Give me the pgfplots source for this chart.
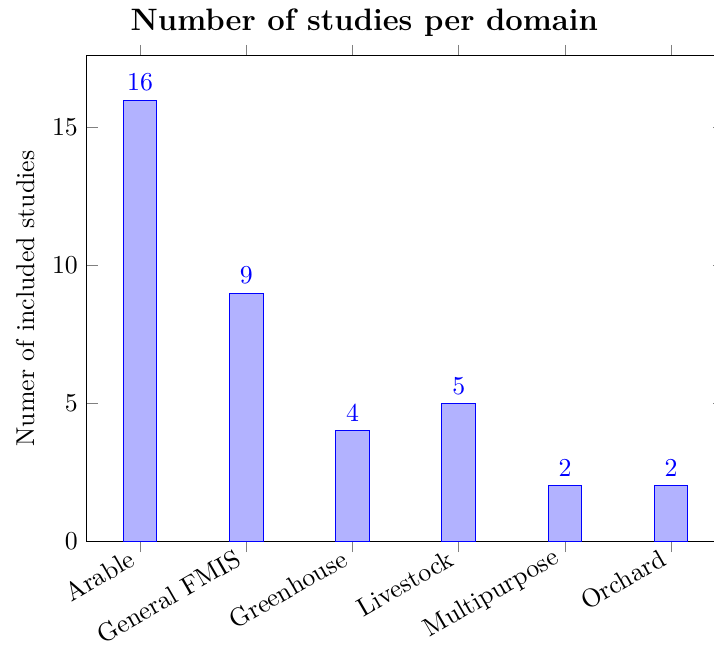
\documentclass[border=0pt]{standalone}
\usepackage{pgfplots}
\pgfplotsset{compat=1.18}
\usetikzlibrary{calc}

\begin{document}
\begin{tikzpicture}
\begin{axis}[
    name=ax,
    scale only axis,
    width=247pt, height=188pt,
    ybar,
    bar width=13pt,
    ymin=0,
    enlarge y limits={upper,value=0.1},
    xmin=-0.5, xmax=5.5,
    xtick=data,
    xticklabels={Arable,General FMIS,Greenhouse,Livestock,Multipurpose,Orchard},
    x tick label style={rotate=30,anchor=east},
    xtick align=outside,
    ytick={0,5,10,15},
    ylabel={Numer of included studies},
    title={\large\bfseries Number of studies per domain},
    title style={xshift=-16pt,yshift=-2pt},
    nodes near coords,
    every node near coord/.append style={blue},
]
\addplot[draw=blue,fill=blue!30] coordinates {(0,16) (1,9) (2,4) (3,5) (4,2) (5,2)};
\end{axis}
\pgfresetboundingbox
\path[use as bounding box] ($(ax.south west)+(-33.7pt,-41.1pt)$) rectangle ($(ax.south west)+(243pt,209.7pt)$);
\end{tikzpicture}
\end{document}
